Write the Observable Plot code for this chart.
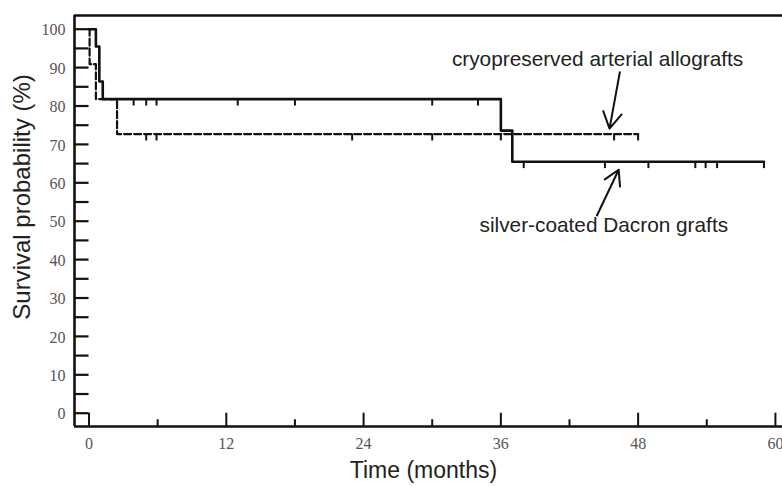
<!DOCTYPE html>
<html>
<head>
<meta charset="utf-8">
<script src="https://cdn.jsdelivr.net/npm/d3@7"></script>
<script src="https://cdn.jsdelivr.net/npm/@observablehq/plot@0.6"></script>
<style>
  html, body { margin: 0; padding: 0; background: #fff; }
</style>
</head>
<body>
<div id="chart"></div>
<script>
// Kaplan–Meier curves: step times (months) and survival (%)
const silverTimes = [0, 0.6, 0.9, 1.2, 36.0, 37.0, 59.0];
const silverSurv  = [100, 95.5, 86.4, 81.8, 73.6, 65.5, 65.5];
const cryoTimes   = [0, 0.05, 0.6, 2.45, 48.0];
const cryoSurv    = [100, 90.9, 81.8, 72.7, 72.7];

// Censored observations (months)
const silverCensored = [3.9, 5.0, 5.9, 13.0, 18.0, 30.0, 34.0, 38.0, 45.1, 48.9, 53.0, 53.9, 54.9, 59.0];
const cryoCensored   = [5.0, 5.9, 23.0, 30.0, 36.0, 45.9, 48.0];

// Axis ticks
const xMajorTicks = [0, 12, 24, 36, 48, 60];
const xMinorTicks = [6, 18, 30, 42, 54];
const yTickLabels = [0, 10, 20, 30, 40, 50, 60, 70, 80, 90, 100];
const yAllTicks   = [0, 5, 10, 15, 20, 25, 30, 35, 40, 45, 50, 55, 60, 65, 70, 75, 80, 85, 90, 95, 100];

// Curve labels with arrows
const labelNames = ["cryopreserved arterial allografts", "silver-coated Dacron grafts"];
const labelX = [44.45, 45.0];
const labelY = [92.1, 48.9];
const arrowFromX = [46.4, 44.4];
const arrowFromY = [88.8, 51.5];
const arrowToX   = [45.5, 46.3];
const arrowToY   = [74.1, 63.4];

const xDomain = [-1.27, 60.62];
const yDomain = [-3.46, 103.57];
const censorLen = 1.8;   // censor mark length in % units
const minorLen = 1.75;   // minor x tick length in % units

const toRows = (ts, ss) => ts.map((t, i) => ({t, s: ss[i]}));
const survAt = (ts, ss, t) => { let v = ss[0]; for (let i = 0; i < ts.length; i++) if (ts[i] <= t) v = ss[i]; return v; };

const silverRows = toRows(silverTimes, silverSurv);
const cryoRows = toRows(cryoTimes, cryoSurv);
const silverCens = silverCensored.map(t => ({t, s: survAt(silverTimes, silverSurv, t)}));
const cryoCens = cryoCensored.map(t => ({t, s: survAt(cryoTimes, cryoSurv, t)}));
const labels = labelNames.map((name, i) => ({name, x: labelX[i], y: labelY[i]}));
const arrows = labelNames.map((name, i) => ({x1: arrowFromX[i], y1: arrowFromY[i], x2: arrowToX[i], y2: arrowToY[i]}));

const ink = "#111";
const serif = "'Liberation Serif', 'DejaVu Serif', serif";
const sans = "'Liberation Sans', Arial, sans-serif";

const chart = Plot.plot({
  width: 782,
  height: 486,
  marginLeft: 74,
  marginRight: 0,
  marginTop: 15,
  marginBottom: 60,
  x: {domain: xDomain, axis: null},
  y: {domain: yDomain, axis: null},
  marks: [
    // frame: top border, left and bottom axes
    Plot.ruleY([yDomain[1]], {stroke: ink, strokeWidth: 2.6}),
    Plot.ruleX([xDomain[0]], {stroke: ink, strokeWidth: 2.6}),
    Plot.ruleY([yDomain[0]], {stroke: ink, strokeWidth: 2.6}),
    // inward y ticks
    Plot.ruleY(yAllTicks, {y: d => d, x1: xDomain[0], x2: 0, stroke: ink, strokeWidth: 2.2}),
    // inward x ticks
    Plot.ruleX(xMajorTicks, {x: d => d, y1: yDomain[0], y2: 0, stroke: ink, strokeWidth: 2}),
    Plot.ruleX(xMinorTicks, {x: d => d, y1: yDomain[0], y2: yDomain[0] + minorLen, stroke: ink, strokeWidth: 2}),
    // tick labels
    Plot.text(yTickLabels, {x: xDomain[0], y: d => d, text: d => String(d), textAnchor: "end", dx: -9, dy: 1,
      fontFamily: serif, fontSize: 16, fill: "#555"}),
    Plot.text(xMajorTicks, {x: d => d, y: yDomain[0], text: d => String(d), dy: 17,
      fontFamily: serif, fontSize: 16, fill: "#555"}),
    // axis titles
    Plot.text(["Time (months)"], {frameAnchor: "bottom", text: d => d, textAnchor: "middle", lineAnchor: "middle",
      dx: -5, dy: 44, fontFamily: sans, fontSize: 23, fill: "#222"}),
    Plot.text(["Survival probability (%)"], {frameAnchor: "left", text: d => d, textAnchor: "middle", lineAnchor: "middle",
      rotate: -90, dx: -52, dy: -24, fontFamily: sans, fontSize: 24, fill: "#222"}),
    // survival curves
    Plot.line(cryoRows, {x: "t", y: "s", curve: "step-after", stroke: ink, strokeWidth: 2.2, strokeDasharray: "7,3"}),
    Plot.line(silverRows, {x: "t", y: "s", curve: "step-after", stroke: ink, strokeWidth: 2.6}),
    // censor marks
    Plot.ruleX(cryoCens, {x: "t", y1: "s", y2: d => d.s - censorLen, stroke: ink, strokeWidth: 2}),
    Plot.ruleX(silverCens, {x: "t", y1: "s", y2: d => d.s - censorLen, stroke: ink, strokeWidth: 2}),
    // curve labels
    Plot.text(labels, {x: "x", y: "y", text: "name", fontFamily: sans, fontSize: 20.8, fill: "#222"}),
    Plot.arrow(arrows, {x1: "x1", y1: "y1", x2: "x2", y2: "y2", stroke: ink, strokeWidth: 2, headLength: 14})
  ]
});

document.getElementById("chart").appendChild(chart);
</script>
</body>
</html>
